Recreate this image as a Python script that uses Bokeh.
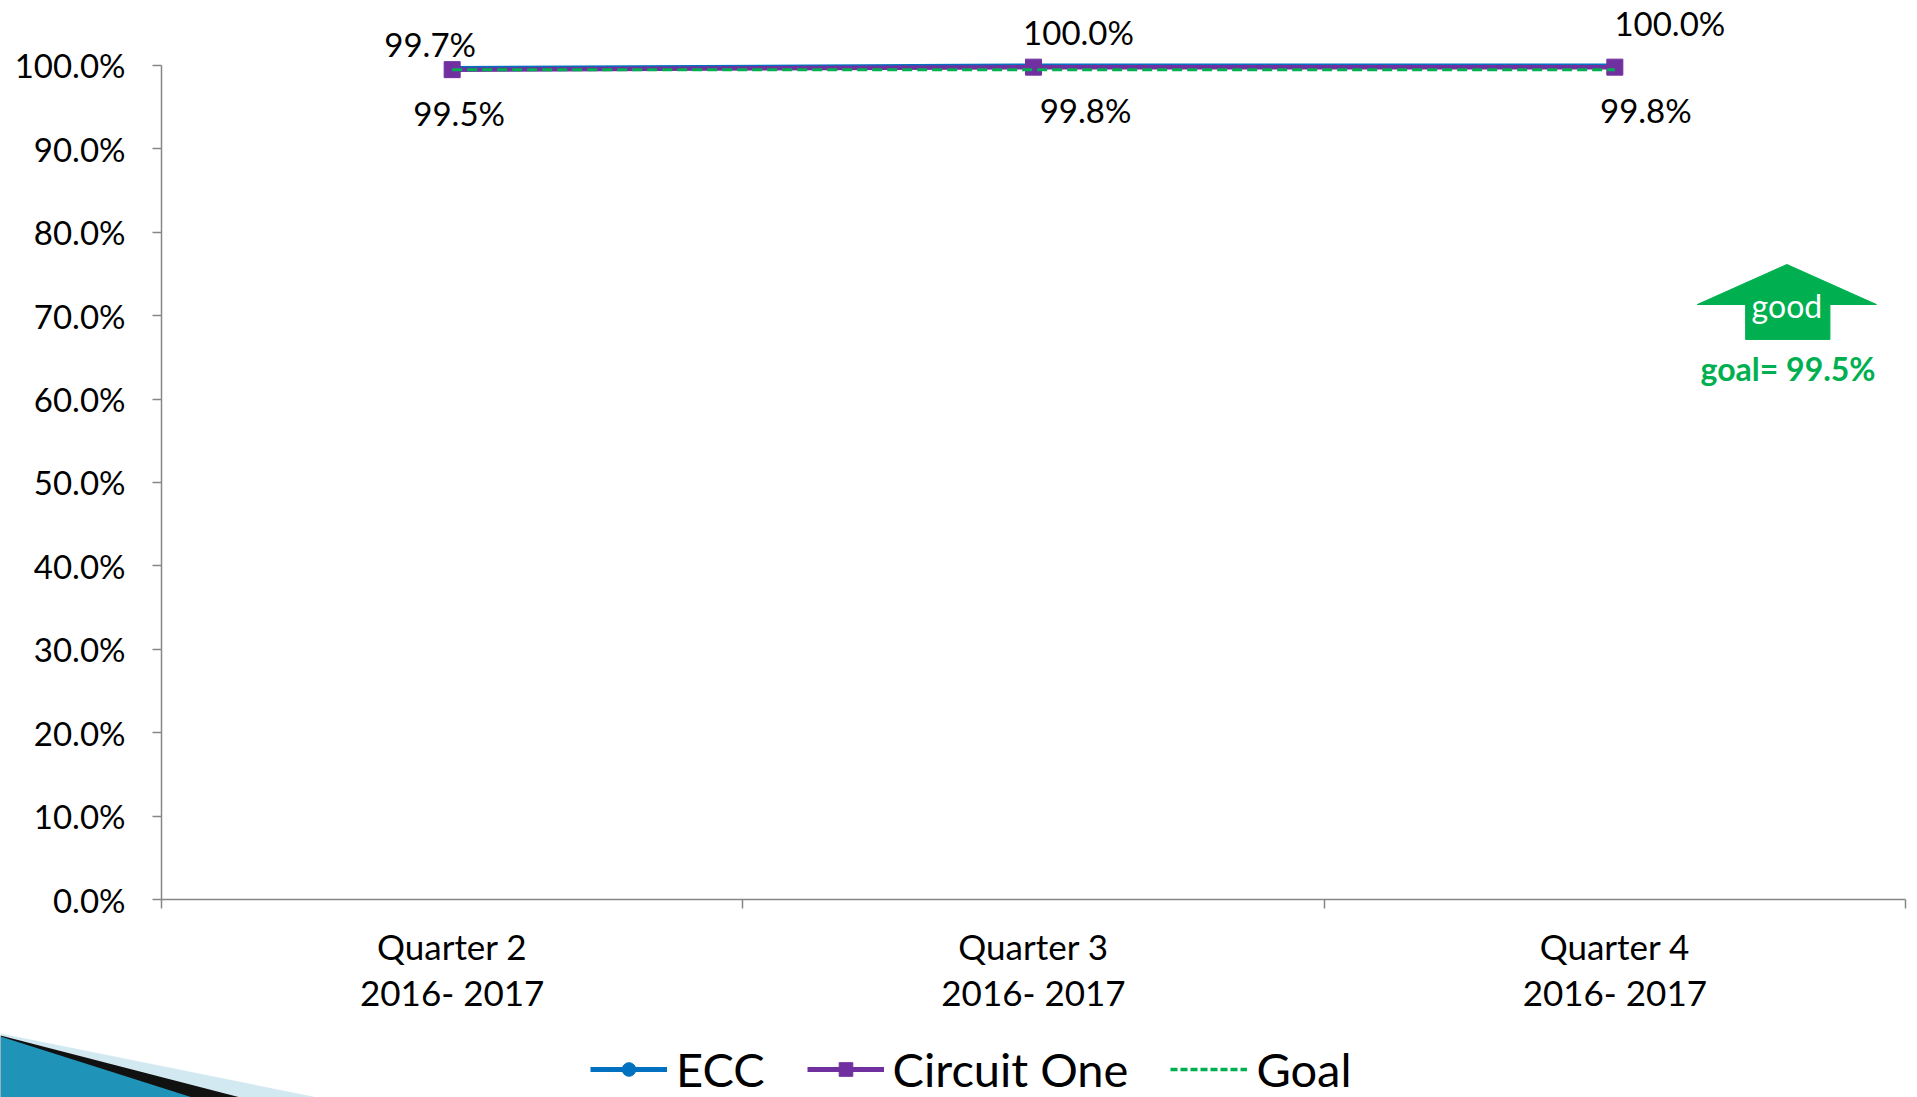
from bokeh.plotting import figure
from bokeh.models import Range1d, FixedTicker, PrintfTickFormatter, Legend, LegendItem
from bokeh.layouts import column
from bokeh.core.properties import value
from bokeh.embed import file_html
from bokeh.resources import INLINE

# ---------------- data ----------------
quarters = ["Quarter 2", "Quarter 3", "Quarter 4"]
fiscal_year = "2016- 2017"
ecc = [99.7, 100.0, 100.0]
circuit_one = [99.5, 99.8, 99.8]
goal = [99.5, 99.5, 99.5]
goal_text = "goal= 99.5%"
y_ticks = [0, 10, 20, 30, 40, 50, 60, 70, 80, 90, 100]

# ---------------- style ----------------
FONT = "Lato"
BLUE = "#0070C0"
PURPLE = "#7030A0"
GREEN = "#00B050"
AXIS = "#868686"

W = 1909
MAIN_H = 1015
LEG_H = 82
FL, FR, FB = 161, 1905, 899    # frame left / right / bottom (canvas px)

x = [i + 0.5 for i in range(len(quarters))]
cat_labels = {i + 0.5: f"{q}\n{fiscal_year}" for i, q in enumerate(quarters)}

p = figure(width=W, height=MAIN_H, x_range=Range1d(0, 3), y_range=Range1d(0, 107.79),
           output_backend="svg", toolbar_location=None,
           min_border_left=FL, min_border_right=W - FR, min_border_top=0,
           min_border_bottom=MAIN_H - FB)
p.frame_align = False
p.outline_line_color = None
p.xgrid.visible = False
p.ygrid.visible = False

# y axis
ya = p.yaxis[0]
ya.ticker = FixedTicker(ticks=y_ticks)
ya.formatter = PrintfTickFormatter(format="%.1f%%")
ya.bounds = (0, 100)
ya.axis_line_color = AXIS
ya.axis_line_width = 1.5
ya.major_tick_line_color = AXIS
ya.major_tick_line_width = 1.5
ya.major_tick_out = 9
ya.major_tick_in = 0
ya.minor_tick_line_color = None
ya.major_label_standoff = 27
ya.major_label_text_font = FONT
ya.major_label_text_font_size = "33px"
ya.major_label_text_color = "black"

# x axis
xa = p.xaxis[0]
xa.ticker = FixedTicker(ticks=x, minor_ticks=[0, 1, 2, 3])
xa.major_label_overrides = cat_labels
xa.axis_line_color = AXIS
xa.axis_line_width = 1.5
xa.major_tick_line_color = None
xa.major_tick_out = 0
xa.major_tick_in = 0
xa.minor_tick_line_color = AXIS
xa.minor_tick_line_width = 1.5
xa.minor_tick_out = 9
xa.minor_tick_in = 0
xa.major_label_standoff = 16
xa.major_label_text_font = FONT
xa.major_label_text_font_size = "35px"
xa.major_label_text_line_height = 1.1
xa.major_label_text_color = "black"

# series
p.line(x, ecc, line_color=BLUE, line_width=4)
p.scatter(x, ecc, marker="circle", size=10, fill_color=BLUE, line_color=BLUE)
p.line(x, circuit_one, line_color=PURPLE, line_width=4.5)
p.scatter(x, circuit_one, marker="square", size=16, fill_color=PURPLE, line_color=PURPLE)
p.line(x, goal, line_color=GREEN, line_width=3, line_dash="10 5")

# data labels (offsets in px, as placed on the original slide)
ecc_dx = [-22, 45, 55]
ecc_dy = [-24, -33, -42]
c1_dx = [7, 52, 31]
c1_dy = [43, 43, 43]
p.text(x=x, y=ecc, text=[f"{v:.1f}%" for v in ecc], x_offset=ecc_dx, y_offset=ecc_dy,
       text_font=value(FONT), text_font_size="33px", text_align="center",
       text_baseline="middle", text_color="black")
p.text(x=x, y=circuit_one, text=[f"{v:.1f}%" for v in circuit_one], x_offset=c1_dx, y_offset=c1_dy,
       text_font=value(FONT), text_font_size="33px", text_align="center",
       text_baseline="middle", text_color="black")

# "good" arrow annotation
p.patch(x=[2.796, 2.950, 2.870, 2.870, 2.725, 2.725, 2.642],
        y=[76.14, 71.34, 71.34, 67.15, 67.15, 71.34, 71.34],
        fill_color=GREEN, line_color=GREEN)
p.text(x=[2.796], y=[71.2], text=["good"], text_font=value(FONT), text_font_size="32px",
       text_align="center", text_baseline="middle", text_color="white")
p.text(x=[2.798], y=[63.7], text=[goal_text], text_font=value(FONT), text_font_size="32px",
       text_font_style="bold", text_align="center", text_baseline="middle", text_color=GREEN)

# ---------------- legend strip ----------------
lf = figure(width=W, height=LEG_H, x_range=Range1d(0, W), y_range=Range1d(0, LEG_H),
            output_backend="svg", toolbar_location=None,
            min_border_left=0, min_border_right=0, min_border_top=0, min_border_bottom=0,
            x_axis_location=None, y_axis_location=None)
lf.frame_align = False
lf.outline_line_color = None
lf.xgrid.visible = False
lf.ygrid.visible = False

# decorative corner stripe of the slide theme
lf.patch(x=[0, 0, 317], y=[64, 0, 0], fill_color="#D3E9F2", line_color=None)
lf.patch(x=[0, 0, 240], y=[62, 0, 0], fill_color="#111111", line_color=None)
lf.patch(x=[0, 0, 192], y=[61, 0, 0], fill_color="#1F93B8", line_color=None)

# legend sample renderers (kept outside the visible range)
l_ecc = [lf.line([-10, -5], [-10, -10], line_color=BLUE, line_width=5),
         lf.scatter([-10], [-10], marker="circle", size=12, fill_color=BLUE, line_color=BLUE)]
l_c1 = [lf.line([-10, -5], [-10, -10], line_color=PURPLE, line_width=5),
        lf.scatter([-10], [-10], marker="square", size=14, fill_color=PURPLE, line_color=PURPLE)]
l_goal = [lf.line([-10, -5], [-10, -10], line_color=GREEN, line_width=3.5, line_dash="7 3")]

legend = Legend(items=[LegendItem(label="ECC", renderers=l_ecc),
                       LegendItem(label="Circuit One", renderers=l_c1),
                       LegendItem(label="Goal", renderers=l_goal)],
                orientation="horizontal", location=(590, 0),
                label_text_font=FONT, label_text_font_size="47px", label_text_color="black",
                glyph_width=77, glyph_height=34, label_standoff=9, spacing=42,
                padding=0, margin=0, border_line_color=None, background_fill_alpha=0)
lf.add_layout(legend, "center")

open("out.html", "w").write(file_html(column(p, lf, spacing=0), INLINE))
